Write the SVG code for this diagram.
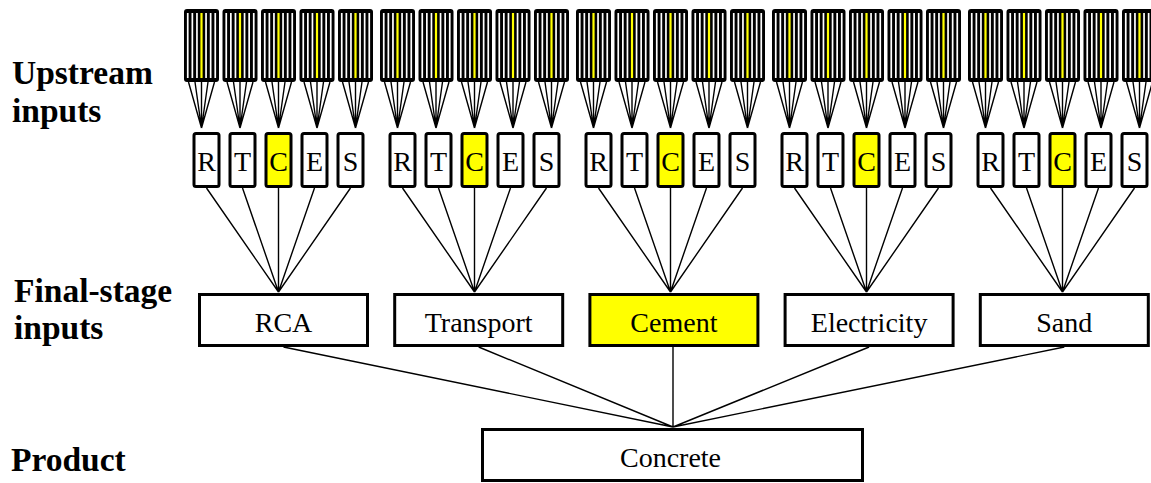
<svg xmlns="http://www.w3.org/2000/svg" xmlns:xlink="http://www.w3.org/1999/xlink" width="1151" height="483" viewBox="0 0 1151 483">
<style>
.box{fill:#fff;stroke:#000;stroke-width:3}
.hl{fill:#ffff00}
.ln{stroke:#000;stroke-width:1.4;fill:none}
.lt{font-family:"Liberation Serif","Times New Roman",serif;font-size:28px;text-anchor:middle;fill:#000}
.ft{font-family:"Liberation Serif","Times New Roman",serif;font-size:28px;text-anchor:middle;fill:#000}
.lab{font-family:"Liberation Serif","Times New Roman",serif;font-size:33.5px;font-weight:bold;fill:#000}
</style>
<defs>
<g id="blk">
<rect x="0" y="9" width="35" height="73" rx="3" fill="#000"/>
<g fill="#fff">
<rect x="2.9" y="13" width="1.7" height="65"/>
<rect x="7.5" y="13" width="1.7" height="65"/>
<rect x="12.1" y="13" width="1.7" height="65"/>
<rect x="21.2" y="13" width="1.7" height="65"/>
<rect x="25.8" y="13" width="1.7" height="65"/>
<rect x="30.4" y="13" width="1.7" height="65"/>
</g>
<rect x="16.4" y="13" width="2.2" height="65" fill="#ffff00"/>
</g>
<path id="fan" d="M4.5 82L17.5 128M11 82L17.5 128M17.5 82L17.5 128M24 82L17.5 128M30.5 82L17.5 128"/>
</defs>

<g id="labels">
<text class="lab" x="12" y="84">Upstream</text>
<text class="lab" x="12" y="122">inputs</text>
<text class="lab" x="14" y="302">Final-stage</text>
<text class="lab" x="14" y="339">inputs</text>
<text class="lab" x="11" y="471">Product</text>
</g>

<g id="connectors" class="ln">
<g id="fans">
<use xlink:href="#fan" x="184"/><use xlink:href="#fan" x="222.5"/><use xlink:href="#fan" x="261"/><use xlink:href="#fan" x="299.5"/><use xlink:href="#fan" x="338"/>
<use xlink:href="#fan" x="380"/><use xlink:href="#fan" x="418.5"/><use xlink:href="#fan" x="457"/><use xlink:href="#fan" x="495.5"/><use xlink:href="#fan" x="534"/>
<use xlink:href="#fan" x="576"/><use xlink:href="#fan" x="614.5"/><use xlink:href="#fan" x="653"/><use xlink:href="#fan" x="691.5"/><use xlink:href="#fan" x="730"/>
<use xlink:href="#fan" x="772"/><use xlink:href="#fan" x="810.5"/><use xlink:href="#fan" x="849"/><use xlink:href="#fan" x="887.5"/><use xlink:href="#fan" x="926"/>
<use xlink:href="#fan" x="968"/><use xlink:href="#fan" x="1006.5"/><use xlink:href="#fan" x="1045"/><use xlink:href="#fan" x="1083.5"/><use xlink:href="#fan" x="1122"/>
</g>
<path id="to-final" d="M206.5 188L278.5 292M242.5 188L278.5 292M278.5 188L278.5 292M314.5 188L278.5 292M350.5 188L278.5 292
M402.5 188L474.5 292M438.5 188L474.5 292M474.5 188L474.5 292M510.5 188L474.5 292M546.5 188L474.5 292
M598.5 188L670.5 292M634.5 188L670.5 292M670.5 188L670.5 292M706.5 188L670.5 292M742.5 188L670.5 292
M794.5 188L866.5 292M830.5 188L866.5 292M866.5 188L866.5 292M902.5 188L866.5 292M938.5 188L866.5 292
M990.5 188L1062.5 292M1026.5 188L1062.5 292M1062.5 188L1062.5 292M1098.5 188L1062.5 292M1134.5 188L1062.5 292"/>
<path id="to-product" d="M283.5 347L673 427M478.7 347L673 427M673 347L673 427M869.1 347L673 427M1064.3 347L673 427"/>
</g>

<g id="upstream">
<use id="u1" xlink:href="#blk" x="184"/><use id="u2" xlink:href="#blk" x="222.5"/><use id="u3" xlink:href="#blk" x="261"/><use id="u4" xlink:href="#blk" x="299.5"/><use id="u5" xlink:href="#blk" x="338"/>
<use id="u6" xlink:href="#blk" x="380"/><use id="u7" xlink:href="#blk" x="418.5"/><use id="u8" xlink:href="#blk" x="457"/><use id="u9" xlink:href="#blk" x="495.5"/><use id="u10" xlink:href="#blk" x="534"/>
<use id="u11" xlink:href="#blk" x="576"/><use id="u12" xlink:href="#blk" x="614.5"/><use id="u13" xlink:href="#blk" x="653"/><use id="u14" xlink:href="#blk" x="691.5"/><use id="u15" xlink:href="#blk" x="730"/>
<use id="u16" xlink:href="#blk" x="772"/><use id="u17" xlink:href="#blk" x="810.5"/><use id="u18" xlink:href="#blk" x="849"/><use id="u19" xlink:href="#blk" x="887.5"/><use id="u20" xlink:href="#blk" x="926"/>
<use id="u21" xlink:href="#blk" x="968"/><use id="u22" xlink:href="#blk" x="1006.5"/><use id="u23" xlink:href="#blk" x="1045"/><use id="u24" xlink:href="#blk" x="1083.5"/><use id="u25" xlink:href="#blk" x="1122"/>
</g>

<g id="letters">
<g id="g1R"><rect class="box" x="194" y="133.5" width="25" height="53" rx="2"/><text class="lt" x="206.5" y="171">R</text></g>
<g id="g1T"><rect class="box" x="230" y="133.5" width="25" height="53" rx="2"/><text class="lt" x="242.5" y="171">T</text></g>
<g id="g1C"><rect class="box hl" x="266" y="133.5" width="25" height="53" rx="2"/><text class="lt" x="278.5" y="171">C</text></g>
<g id="g1E"><rect class="box" x="302" y="133.5" width="25" height="53" rx="2"/><text class="lt" x="314.5" y="171">E</text></g>
<g id="g1S"><rect class="box" x="338" y="133.5" width="25" height="53" rx="2"/><text class="lt" x="350.5" y="171">S</text></g>

<g id="g2R"><rect class="box" x="390" y="133.5" width="25" height="53" rx="2"/><text class="lt" x="402.5" y="171">R</text></g>
<g id="g2T"><rect class="box" x="426" y="133.5" width="25" height="53" rx="2"/><text class="lt" x="438.5" y="171">T</text></g>
<g id="g2C"><rect class="box hl" x="462" y="133.5" width="25" height="53" rx="2"/><text class="lt" x="474.5" y="171">C</text></g>
<g id="g2E"><rect class="box" x="498" y="133.5" width="25" height="53" rx="2"/><text class="lt" x="510.5" y="171">E</text></g>
<g id="g2S"><rect class="box" x="534" y="133.5" width="25" height="53" rx="2"/><text class="lt" x="546.5" y="171">S</text></g>

<g id="g3R"><rect class="box" x="586" y="133.5" width="25" height="53" rx="2"/><text class="lt" x="598.5" y="171">R</text></g>
<g id="g3T"><rect class="box" x="622" y="133.5" width="25" height="53" rx="2"/><text class="lt" x="634.5" y="171">T</text></g>
<g id="g3C"><rect class="box hl" x="658" y="133.5" width="25" height="53" rx="2"/><text class="lt" x="670.5" y="171">C</text></g>
<g id="g3E"><rect class="box" x="694" y="133.5" width="25" height="53" rx="2"/><text class="lt" x="706.5" y="171">E</text></g>
<g id="g3S"><rect class="box" x="730" y="133.5" width="25" height="53" rx="2"/><text class="lt" x="742.5" y="171">S</text></g>

<g id="g4R"><rect class="box" x="782" y="133.5" width="25" height="53" rx="2"/><text class="lt" x="794.5" y="171">R</text></g>
<g id="g4T"><rect class="box" x="818" y="133.5" width="25" height="53" rx="2"/><text class="lt" x="830.5" y="171">T</text></g>
<g id="g4C"><rect class="box hl" x="854" y="133.5" width="25" height="53" rx="2"/><text class="lt" x="866.5" y="171">C</text></g>
<g id="g4E"><rect class="box" x="890" y="133.5" width="25" height="53" rx="2"/><text class="lt" x="902.5" y="171">E</text></g>
<g id="g4S"><rect class="box" x="926" y="133.5" width="25" height="53" rx="2"/><text class="lt" x="938.5" y="171">S</text></g>

<g id="g5R"><rect class="box" x="978" y="133.5" width="25" height="53" rx="2"/><text class="lt" x="990.5" y="171">R</text></g>
<g id="g5T"><rect class="box" x="1014" y="133.5" width="25" height="53" rx="2"/><text class="lt" x="1026.5" y="171">T</text></g>
<g id="g5C"><rect class="box hl" x="1050" y="133.5" width="25" height="53" rx="2"/><text class="lt" x="1062.5" y="171">C</text></g>
<g id="g5E"><rect class="box" x="1086" y="133.5" width="25" height="53" rx="2"/><text class="lt" x="1098.5" y="171">E</text></g>
<g id="g5S"><rect class="box" x="1122" y="133.5" width="25" height="53" rx="2"/><text class="lt" x="1134.5" y="171">S</text></g>
</g>

<g id="final">
<g id="rca"><rect class="box" x="199.5" y="294.5" width="168" height="51"/><text class="ft" x="283.5" y="332">RCA</text></g>
<g id="transport"><rect class="box" x="394.7" y="294.5" width="168" height="51"/><text class="ft" x="478.7" y="332">Transport</text></g>
<g id="cement"><rect class="box hl" x="589.9" y="294.5" width="168" height="51"/><text class="ft" x="673.9" y="332">Cement</text></g>
<g id="electricity"><rect class="box" x="785.1" y="294.5" width="168" height="51"/><text class="ft" x="869.1" y="332">Electricity</text></g>
<g id="sand"><rect class="box" x="980.3" y="294.5" width="168" height="51"/><text class="ft" x="1064.3" y="332">Sand</text></g>
</g>

<g id="product">
<rect class="box" x="482.5" y="429.5" width="380" height="51"/>
<text class="ft" x="670.5" y="467">Concrete</text>
</g>
</svg>
